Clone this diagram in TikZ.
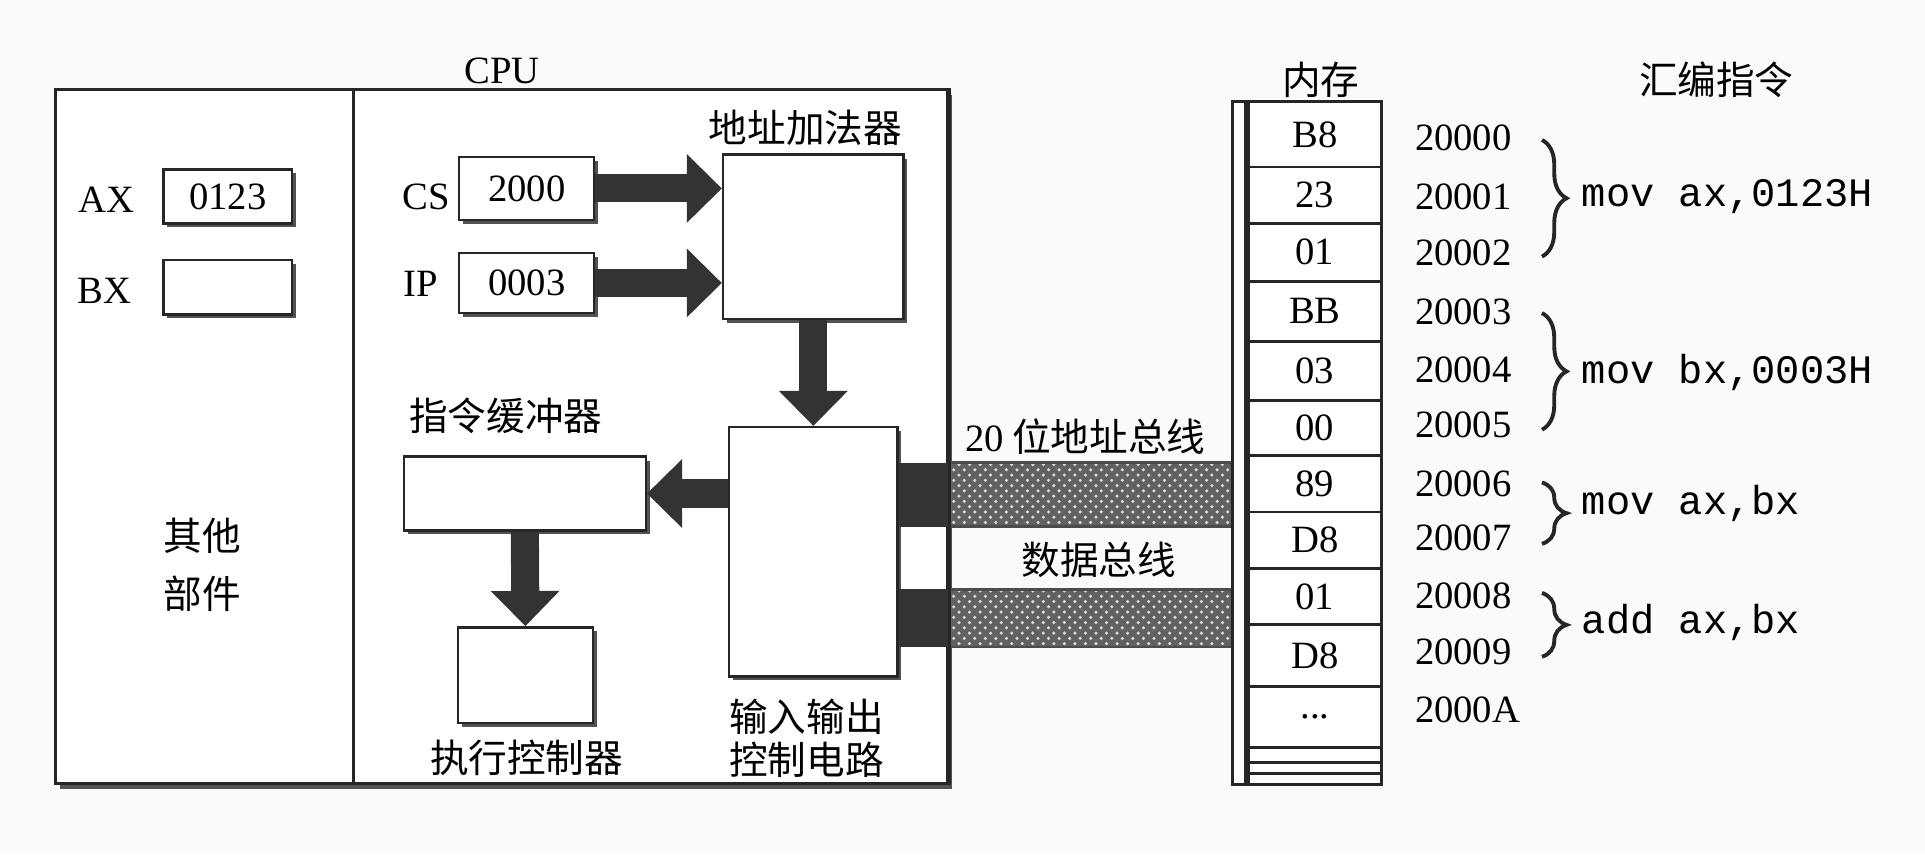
\documentclass[tikz,border=0pt]{standalone}
\usepackage{fontspec}
\setmainfont{Liberation Serif}
\setmonofont{Liberation Mono}
\newfontfamily\cjk{Noto Sans CJK SC}
\usetikzlibrary{arrows.meta,shadows,patterns,fit,decorations.pathreplacing,positioning,calc}
\tikzset{
  txt/.style={font=\fontsize{11}{13}\selectfont, inner sep=0pt},
  zh/.style={font=\cjk\fontsize{11}{13}\selectfont, inner sep=0pt},
  code/.style={font=\ttfamily\fontsize{11.5}{13}\selectfont, anchor=west, inner sep=0pt},
  regbox/.style={draw=black!85, line width=0.7pt, fill=white, inner sep=0pt,
    drop shadow={shadow xshift=1.1pt, shadow yshift=-1.1pt, fill=black!75, opacity=0.9}},
  outerbox/.style={draw=black!85, line width=0.9pt, fill=white, inner sep=0pt,
    drop shadow={shadow xshift=1.3pt, shadow yshift=-1.6pt, fill=black!75, opacity=0.9}},
  cell/.style={draw=black!85, line width=0.8pt, fill=white, inner sep=0pt},
  val/.style={label={[txt]center:#1}},
  fat/.style={line width=8pt, draw=black!80, -{Triangle[width=19pt,length=10pt]}},
  bus/.style={preaction={fill=black!62}, pattern=crosshatch dots, pattern color=white!85!black},
  instbrace/.style={decorate, decoration={brace, amplitude=7pt}, line width=1.1pt, draw=black!85},
}
\begin{document}
\begin{tikzpicture}[x=0.012277cm, y=-0.012277cm]
\fill[black!2] (0,0) rectangle (1568,696);
\useasboundingbox (0,0) rectangle (1568,696);

% CPU
\node[outerbox, fit={(45,73) (772,638)}] (cpu) {};
\node[txt] (cpulbl) at (409,58) {CPU};
\draw[line width=0.8pt, black!85] (288,0 |- cpu.north) -- (288,0 |- cpu.south);

\node[txt] (axlbl) at (87,163) {AX};
\node[regbox, val=0123, fit={(133,138) (238,182)}] (ax) {};
\node[txt] (bxlbl) at (85,237) {BX};
\node[regbox, fit={(133,212) (238,256)}] (bx) {};
\node[zh, align=center, font=\cjk\fontsize{11}{16.4}\selectfont] (other) at (165,460) {其他\\部件};

\node[txt] (cslbl) at (347,160) {CS};
\node[regbox, val=2000, fit={(374,128) (484,179)}] (cs) {};
\node[txt] (iplbl) at (343,231) {IP};
\node[regbox, val=0003, fit={(374,206) (484,255)}] (ip) {};

\node[zh] (addlbl) at (656,104) {地址加法器};
\node[regbox, fit={(589,126) (736,260)}] (adder) {};
\node[regbox, fit={(594,348) (731,551)}] (io) {};
\node[zh, align=center, font=\cjk\fontsize{11}{12.2}\selectfont] (iolbl) at (657,601) {输入输出\\控制电路};
\node[zh] (buflbl) at (412,339) {指令缓冲器};
\node[regbox, fit={(329,372) (526,432)}] (buf) {};
\node[regbox, fit={(373,511) (483,589)}] (exec) {};
\node[zh] (execlbl) at (429,617) {执行控制器};

\draw[fat] (cs.east) -- (adder.west |- cs.east);
\draw[fat] (ip.east) -- (adder.west |- ip.east);
\draw[fat] (adder.south) -- (io.north);
\draw[fat] (io.west |- buf.east) -- (buf.east);
\draw[fat] (buf.south) -- (exec.north);

% memory
\node[zh] (memlbl) at (1076,65) {内存};
\node[zh] (asmlbl) at (1398,65) {汇编指令};
\node[cell, fit={(1004,83) (1017,639)}] (strip) {};
\node[cell, val=B8, fit={(1017,83) (1125,136)}] (c0) {};
\node[cell, val=23, fit={(1017,136) (1125,182)}] (c1) {};
\node[cell, val=01, fit={(1017,182) (1125,229)}] (c2) {};
\node[cell, val=BB, fit={(1017,229) (1125,278)}] (c3) {};
\node[cell, val=03, fit={(1017,278) (1125,326)}] (c4) {};
\node[cell, val=00, fit={(1017,326) (1125,371)}] (c5) {};
\node[cell, val=89, fit={(1017,371) (1125,417)}] (c6) {};
\node[cell, val=D8, fit={(1017,417) (1125,463)}] (c7) {};
\node[cell, val=01, fit={(1017,463) (1125,509)}] (c8) {};
\node[cell, val=D8, fit={(1017,509) (1125,559)}] (c9) {};
\node[cell, val=..., fit={(1017,559) (1125,609)}] (c10) {};
\node[cell, fit={(1017,609) (1125,621)}] (c11) {};
\node[cell, fit={(1017,621) (1125,630)}] (c12) {};
\node[cell, fit={(1017,630) (1125,639)}] (c13) {};
\draw[line width=1.8pt, black!85] (c0.north west) -- (c13.south west);

% buses
\fill[black!80] (io.east |- 0,377) rectangle (cpu.east |- 0,429);
\fill[black!80] (io.east |- 0,480) rectangle (cpu.east |- 0,527);
\path[bus] (cpu.east |- 0,377) rectangle (strip.west |- 0,429);
\path[bus] (cpu.east |- 0,480) rectangle (strip.west |- 0,527);
\draw[black!70, line width=0.8pt] (cpu.east |- 0,377) -- (strip.west |- 0,377) (cpu.east |- 0,429) -- (strip.west |- 0,429);
\draw[black!70, line width=0.8pt] (cpu.east |- 0,480) -- (strip.west |- 0,480) (cpu.east |- 0,527) -- (strip.west |- 0,527);
\draw[line width=0.9pt, black!85] (cpu.north east) -- (cpu.south east);
\node[zh] (abuslbl) at (884,356) {{\rmfamily 20} 位地址总线};
\node[zh] (dbuslbl) at (895,456) {数据总线};

\node[txt, anchor=west] (a0) at (1152,112) {20000};
\node[txt, anchor=west] (a1) at (1152,160) {20001};
\node[txt, anchor=west] (a2) at (1152,206) {20002};
\node[txt, anchor=west] (a3) at (1152,254) {20003};
\node[txt, anchor=west] (a4) at (1152,301) {20004};
\node[txt, anchor=west] (a5) at (1152,346) {20005};
\node[txt, anchor=west] (a6) at (1152,394) {20006};
\node[txt, anchor=west] (a7) at (1152,438) {20007};
\node[txt, anchor=west] (a8) at (1152,485) {20008};
\node[txt, anchor=west] (a9) at (1152,531) {20009};
\node[txt, anchor=west] (aA) at (1152,578) {2000A};

\draw[instbrace] (1256,114) -- (1256,209);
\draw[instbrace] (1256,255) -- (1256,350);
\draw[instbrace] (1256,393) -- (1256,443);
\draw[instbrace] (1256,483) -- (1256,535);
\node[code] (i0) at (1288,160) {mov ax,0123H};
\node[code] (i1) at (1288,303) {mov bx,0003H};
\node[code] (i2) at (1288,410) {mov ax,bx};
\node[code] (i3) at (1288,507) {add ax,bx};
\end{tikzpicture}
\end{document}
